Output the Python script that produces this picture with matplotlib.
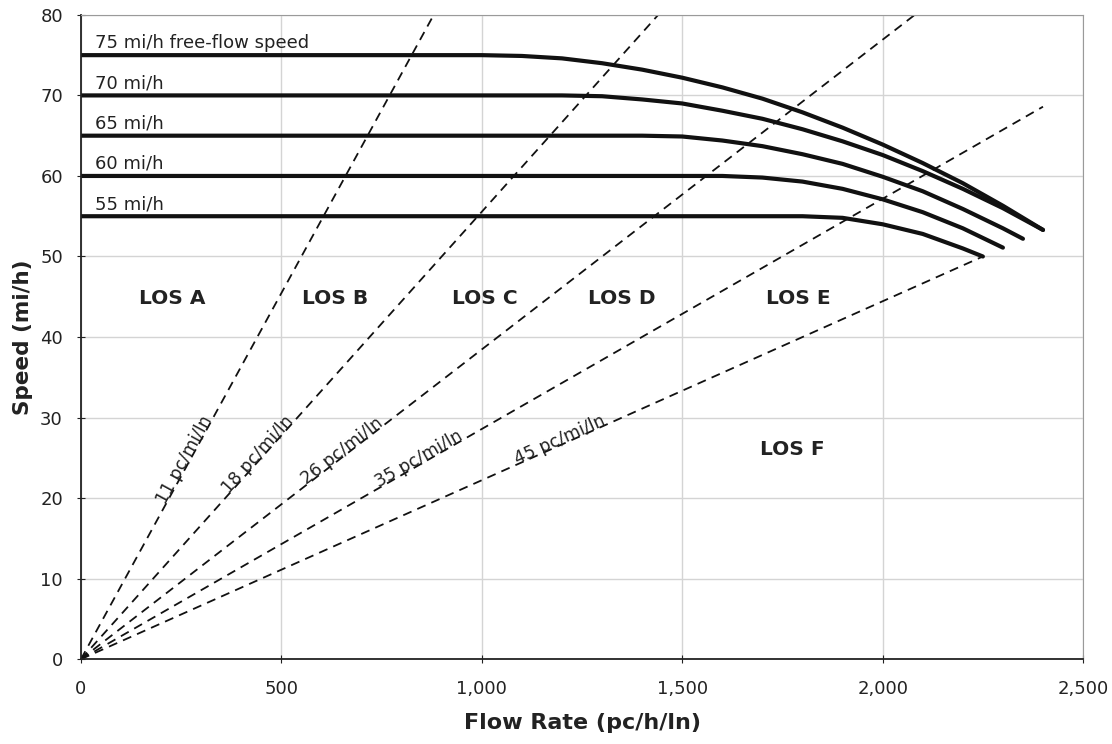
import numpy as np
import matplotlib
matplotlib.use('Agg')
import matplotlib.pyplot as plt

# Speed-flow curves (flow pc/h/ln, speed mi/h)
ffs_labels = ['75 mi/h free-flow speed', '70 mi/h', '65 mi/h', '60 mi/h', '55 mi/h']
flow_75 = [0, 1000, 1100, 1200, 1300, 1400, 1500, 1600, 1700, 1800, 1900, 2000, 2100, 2200, 2300, 2400]
speed_75 = [75, 75, 74.9, 74.6, 74.0, 73.2, 72.2, 71.0, 69.6, 67.9, 66.0, 63.9, 61.6, 59.1, 56.3, 53.3]
flow_70 = [0, 1200, 1300, 1400, 1500, 1600, 1700, 1800, 1900, 2000, 2100, 2200, 2300, 2400]
speed_70 = [70, 70, 69.9, 69.5, 69.0, 68.1, 67.1, 65.8, 64.3, 62.6, 60.6, 58.4, 56.0, 53.3]
flow_65 = [0, 1400, 1500, 1600, 1700, 1800, 1900, 2000, 2100, 2200, 2300, 2350]
speed_65 = [65, 65, 64.9, 64.4, 63.7, 62.7, 61.5, 59.9, 58.1, 55.9, 53.5, 52.2]
flow_60 = [0, 1600, 1700, 1800, 1900, 2000, 2100, 2200, 2300]
speed_60 = [60, 60, 59.8, 59.3, 58.4, 57.1, 55.5, 53.5, 51.1]
flow_55 = [0, 1800, 1900, 2000, 2100, 2200, 2250]
speed_55 = [55, 55, 54.8, 54.0, 52.8, 51.0, 50.0]

# Density lines (from origin to end point)
dens_labels = ['11 pc/mi/ln', '18 pc/mi/ln', '26 pc/mi/ln', '35 pc/mi/ln', '45 pc/mi/ln']
dens_end_flow = [880, 1440, 2080, 2400, 2250]
dens_end_speed = [80, 80, 80, 68.6, 50]
# where each density label sits along its line (flow, speed)
dens_lab_flow = [270, 450, 660, 850, 1200]
dens_lab_speed = [24.5, 25.0, 25.4, 24.3, 26.7]

los_labels = ['LOS A', 'LOS B', 'LOS C', 'LOS D', 'LOS E', 'LOS F']
los_x = [227, 634, 1008, 1350, 1789, 1774]
los_y = [44.8, 44.8, 44.8, 44.8, 44.8, 26]

plt.rcParams['font.family'] = 'DejaVu Sans'

fig = plt.figure(figsize=(11.12, 7.44), dpi=100)
ax = fig.add_axes([0.0728, 0.114, 0.9012, 0.866])

ax.set_xlim(0, 2500)
ax.set_ylim(0, 80)
ax.set_xticks(np.arange(0, 2501, 500))
ax.set_yticks(np.arange(0, 81, 10))
ax.set_xticklabels(['0', '500', '1,000', '1,500', '2,000', '2,500'])
ax.grid(True, color='#d4d4d4', linewidth=1.0)
ax.set_axisbelow(True)
for s in ['top', 'right']:
    ax.spines[s].set_color('#9a9a9a')
for s in ['left', 'bottom']:
    ax.spines[s].set_color('#222222')
    ax.spines[s].set_linewidth(1.3)
ax.tick_params(direction='inout', length=6, labelsize=13, colors='#222222')
ax.tick_params(axis='x', pad=12)
ax.tick_params(axis='y', pad=10)

# density lines
for fe, se in zip(dens_end_flow, dens_end_speed):
    ax.plot([0, fe], [0, se], color='#111111', lw=1.3, ls=(0, (5, 3.5)))

# speed-flow curves
curves = [(flow_75, speed_75), (flow_70, speed_70), (flow_65, speed_65),
          (flow_60, speed_60), (flow_55, speed_55)]
for (fx, sy), lab in zip(curves, ffs_labels):
    ax.plot(fx, sy, color='#111111', lw=3.0, solid_capstyle='round', solid_joinstyle='round')
    ax.text(35, sy[0] + 0.4, lab, fontsize=13, color='#222222', va='bottom', ha='left')

# density labels rotated along lines
fig.canvas.draw()
for lab, fl, sp, fe, se in zip(dens_labels, dens_lab_flow, dens_lab_speed,
                               dens_end_flow, dens_end_speed):
    p0 = ax.transData.transform((0, 0))
    p1 = ax.transData.transform((fe, se))
    ang = np.degrees(np.arctan2(p1[1] - p0[1], p1[0] - p0[0]))
    ax.text(fl, sp, lab, fontsize=12.5, color='#222222', rotation=ang,
            rotation_mode='anchor', ha='center', va='baseline')

for lab, x, y in zip(los_labels, los_x, los_y):
    ax.text(x, y, lab, fontsize=14.5, fontweight='bold', color='#222222',
            ha='center', va='center')

ax.set_xlabel('Flow Rate (pc/h/ln)', fontsize=16, fontweight='bold', color='#222222', labelpad=11)
ax.set_ylabel('Speed (mi/h)', fontsize=15.5, fontweight='bold', color='#222222', labelpad=5)

fig.savefig('out.png', dpi=100)
